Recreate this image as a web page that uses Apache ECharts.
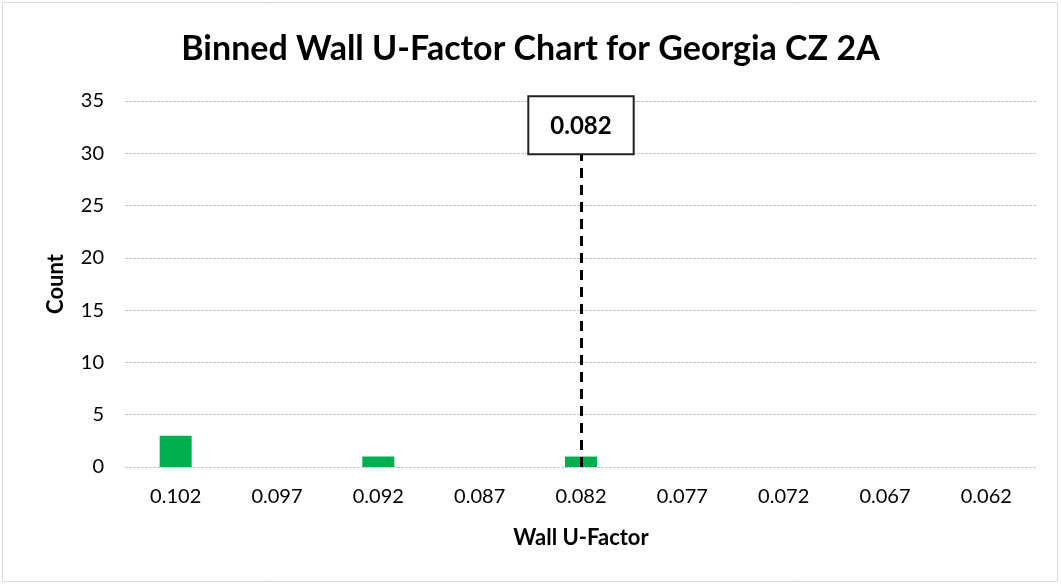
<!DOCTYPE html>
<html>
<head>
<meta charset="utf-8">
<script src="https://cdn.jsdelivr.net/npm/echarts@6/dist/echarts.min.js"></script>
<style>
  html, body { margin: 0; padding: 0; background: #fff; }
  #chart { width: 1061px; height: 585px; }
</style>
</head>
<body>
<div id="chart"></div>
<script>
// binned wall u-factor counts
var categories = ['0.102', '0.097', '0.092', '0.087', '0.082', '0.077', '0.072', '0.067', '0.062']
var counts = [3, 0, 1, 0, 1, 0, 0, 0, 0]
var markerValue = '0.082'
var markerTop = 30

var font = 'Lato, "Open Sans", sans-serif'

var option = {
  animation: false,
  backgroundColor: '#fff',
  title: {
    text: 'Binned Wall U-Factor Chart for Georgia CZ 2A',
    left: 'center',
    top: 27,
    textStyle: { fontFamily: font, fontSize: 34, fontWeight: 'bold', color: '#000' }
  },
  graphic: [
    {
      type: 'rect',
      shape: { x: 2.5, y: 2.5, width: 1055, height: 579 },
      style: { fill: 'none', stroke: '#d9d9d9', lineWidth: 1 },
      silent: true
    }
  ],
  grid: { left: 125, right: 24, top: 101, bottom: 118 },
  xAxis: {
    type: 'category',
    data: categories,
    name: 'Wall U-Factor',
    nameLocation: 'middle',
    nameGap: 60,
    nameTextStyle: { fontFamily: font, fontSize: 22, fontWeight: 'bold', color: '#000' },
    axisLine: { show: false },
    axisTick: { show: false },
    axisLabel: { fontFamily: font, fontSize: 20, color: '#000', margin: 20 }
  },
  yAxis: {
    type: 'value',
    min: 0,
    max: 35,
    interval: 5,
    name: 'Count',
    nameLocation: 'middle',
    nameGap: 58,
    nameTextStyle: { fontFamily: font, fontSize: 22, fontWeight: 'bold', color: '#000' },
    axisLine: { show: false },
    axisTick: { show: false },
    axisLabel: { fontFamily: font, fontSize: 20, color: '#000', margin: 21 },
    splitLine: { lineStyle: { color: '#c8c8c8', type: [3, 1], width: 1 } }
  },
  series: [
    {
      type: 'bar',
      data: counts,
      barWidth: 32,
      itemStyle: { color: '#00b050' },
      markLine: {
        symbol: ['none', 'none'],
        silent: true,
        lineStyle: { color: '#000', type: [10, 7], width: 3 },
        label: {
          show: true,
          position: 'end',
          distance: 0,
          formatter: markerValue,
          fontFamily: font,
          fontSize: 24,
          fontWeight: 'bold',
          color: '#000',
          backgroundColor: '#fff',
          borderColor: '#222',
          borderWidth: 2,
          padding: [17, 21, 15, 21]
        },
        data: [
          [
            { coord: [markerValue, 0] },
            { coord: [markerValue, markerTop] }
          ]
        ]
      }
    }
  ]
}

var chart = echarts.init(document.getElementById('chart'))
chart.setOption(option)
</script>
</body>
</html>
